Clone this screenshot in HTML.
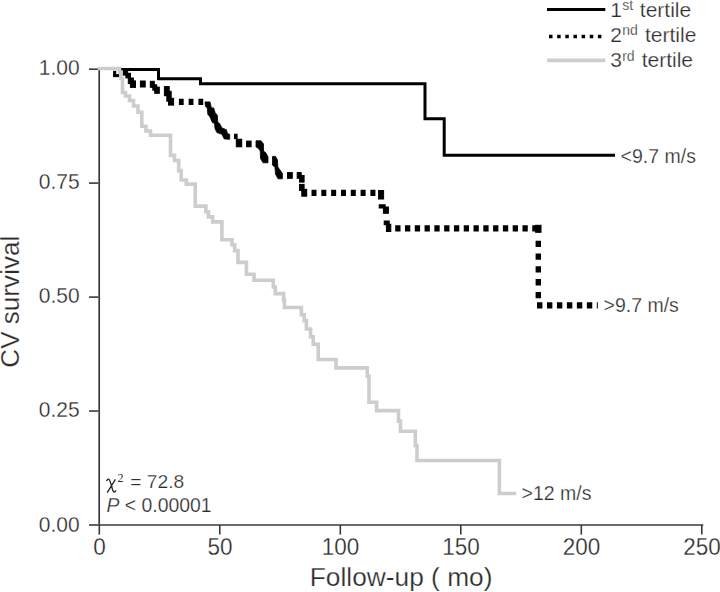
<!DOCTYPE html>
<html><head><meta charset="utf-8"><style>
html,body{margin:0;padding:0;background:#fff;}
svg{display:block;}
text{font-family:"Liberation Sans",sans-serif;fill:#2c2c2c;stroke:#fff;stroke-width:0.25px;paint-order:fill;}
</style></head><body>
<svg width="720" height="592" viewBox="0 0 720 592">
<rect width="720" height="592" fill="#fff"/>
<line x1="99.2" y1="68" x2="99.2" y2="525" stroke="#3a3a3a" stroke-width="1.7"/>
<line x1="98.4" y1="525" x2="703.3" y2="525" stroke="#3a3a3a" stroke-width="1.7"/>
<line x1="89" y1="69.2" x2="98.5" y2="69.2" stroke="#3a3a3a" stroke-width="1.6"/>
<line x1="89" y1="183.1" x2="98.5" y2="183.1" stroke="#3a3a3a" stroke-width="1.6"/>
<line x1="89" y1="297.1" x2="98.5" y2="297.1" stroke="#3a3a3a" stroke-width="1.6"/>
<line x1="89" y1="411.05" x2="98.5" y2="411.05" stroke="#3a3a3a" stroke-width="1.6"/>
<line x1="89" y1="525" x2="98.5" y2="525" stroke="#3a3a3a" stroke-width="1.6"/>
<line x1="99.3" y1="525" x2="99.3" y2="534.6" stroke="#3a3a3a" stroke-width="1.6"/>
<line x1="219.8" y1="525" x2="219.8" y2="534.6" stroke="#3a3a3a" stroke-width="1.6"/>
<line x1="340.3" y1="525" x2="340.3" y2="534.6" stroke="#3a3a3a" stroke-width="1.6"/>
<line x1="460.8" y1="525" x2="460.8" y2="534.6" stroke="#3a3a3a" stroke-width="1.6"/>
<line x1="581.3" y1="525" x2="581.3" y2="534.6" stroke="#3a3a3a" stroke-width="1.6"/>
<line x1="701.8" y1="525" x2="701.8" y2="534.6" stroke="#3a3a3a" stroke-width="1.6"/>
<text transform="translate(79.6,74.70) scale(1,1.045)" text-anchor="end" font-size="21">1.00</text>
<text transform="translate(79.6,188.95) scale(1,1.045)" text-anchor="end" font-size="21">0.75</text>
<text transform="translate(79.6,303.20) scale(1,1.045)" text-anchor="end" font-size="21">0.50</text>
<text transform="translate(79.6,417.45) scale(1,1.045)" text-anchor="end" font-size="21">0.25</text>
<text transform="translate(79.6,531.70) scale(1,1.045)" text-anchor="end" font-size="21">0.00</text>
<text transform="translate(99.6,555.2) scale(1,1.06)" text-anchor="middle" font-size="22.5">0</text>
<text transform="translate(220.1,555.2) scale(1,1.06)" text-anchor="middle" font-size="22.5">50</text>
<text transform="translate(340.6,555.2) scale(1,1.06)" text-anchor="middle" font-size="22.5">100</text>
<text transform="translate(461.1,555.2) scale(1,1.06)" text-anchor="middle" font-size="22.5">150</text>
<text transform="translate(581.6,555.2) scale(1,1.06)" text-anchor="middle" font-size="22.5">200</text>
<text transform="translate(702.1,555.2) scale(1,1.06)" text-anchor="middle" font-size="22.5">250</text>
<text x="309.8" y="586" font-size="26.3">Follow-up ( mo)</text>
<text transform="translate(19.3,367.7) rotate(-90)" x="0" y="0" font-size="26" textLength="132" lengthAdjust="spacing">CV survival</text>
<!-- legend -->
<line x1="547" y1="9.4" x2="605.3" y2="9.4" stroke="#000" stroke-width="3"/>
<line x1="549" y1="36.5" x2="605" y2="36.5" stroke="#000" stroke-width="3.5" stroke-dasharray="3.5 4.65"/>
<line x1="547" y1="60.4" x2="605.3" y2="60.4" stroke="#cdcdcd" stroke-width="3.6"/>
<text x="610.3" y="16.5" font-size="21">1</text><text x="622.2" y="9.8" font-size="14">st</text><text x="639.8" y="16.5" font-size="21">tertile</text>
<text x="610.3" y="41.6" font-size="21">2</text><text x="622.2" y="34.9" font-size="14">nd</text><text x="645" y="41.6" font-size="21">tertile</text>
<text x="610.3" y="67.3" font-size="21">3</text><text x="622.2" y="60.6" font-size="14">rd</text><text x="641.7" y="67.3" font-size="21">tertile</text>
<!-- stats -->
<path d="M 106.6 481.2 C 107 479.5, 108.5 478.7, 109.3 479.6 C 110.5 481, 112 489, 113.4 491.6 C 114.2 492.6, 115.5 491.5, 116 490.4 M 115.4 479.3 L 107.2 492.6" fill="none" stroke="#2c2c2c" stroke-width="1.4"/>
<text x="117.6" y="481.6" font-size="12" style="font-family:'Liberation Serif';stroke:none">2</text>
<text x="130.3" y="488.3" font-size="19.2">= 72.8</text>
<text x="106.5" y="511.7" font-size="19.4"><tspan font-style="italic">P</tspan> &lt; 0.00001</text>
<!-- curve labels -->
<text x="620.6" y="163" font-size="19.5">&lt;9.7 m/s</text>
<text x="603.5" y="312.2" font-size="19.5">&gt;9.7 m/s</text>
<text x="521.6" y="500" font-size="19.5">&gt;12 m/s</text>
<!-- curves -->
<path d="M 120.5 69.4 H 158.5 V 78.7 H 200.5 V 83.8 H 425 V 118.8 H 444.2 V 155.2 H 615" fill="none" stroke="#000" stroke-width="3" stroke-linejoin="miter" stroke-linecap="butt"/>
<g fill="#000" stroke="#000">
<rect x="123.10" y="70.90" width="4.60" height="4.20"/>
<rect x="125.90" y="73.30" width="4.60" height="4.60"/>
<rect x="128.30" y="78.00" width="5.10" height="5.60"/>
<rect x="130.40" y="80.90" width="5.10" height="6.50"/>
<rect x="140.40" y="81.00" width="4.80" height="6.00"/>
<rect x="150.30" y="81.30" width="4.00" height="6.00"/>
<rect x="152.80" y="84.80" width="3.90" height="5.40"/>
<rect x="154.70" y="87.10" width="4.60" height="6.20"/>
<rect x="164.40" y="86.60" width="4.80" height="9.10"/>
<rect x="166.80" y="91.30" width="4.40" height="9.90"/>
<rect x="168.50" y="98.30" width="5.10" height="6.80"/>
<rect x="234.50" y="134.20" width="2.60" height="4.40"/>
<rect x="236.30" y="139.20" width="5.40" height="7.60"/>
<rect x="246.60" y="141.10" width="4.50" height="5.70"/>
<rect x="287.50" y="172.60" width="4.80" height="5.70"/>
<rect x="297.20" y="172.60" width="4.00" height="5.70"/>
<rect x="299.50" y="175.50" width="4.60" height="6.60"/>
<rect x="299.50" y="184.40" width="4.60" height="6.00"/>
<rect x="301.80" y="189.30" width="4.90" height="6.90"/>
<rect x="113.70" y="71.30" width="2.00" height="5.30"/>
<rect x="113.70" y="74.70" width="4.90" height="1.90"/>
<polygon points="205.00,101.90 210.00,101.90 211.40,107.90 213.70,107.90 215.00,112.40 217.30,115.20 217.80,122.50 219.60,123.40 221.90,127.90 226.50,129.80 227.40,133.40 229.70,134.30 229.70,139.30 224.20,138.90 221.90,134.30 216.90,132.50 215.00,128.80 214.60,123.40 212.30,122.50 210.00,117.00 207.80,114.20 207.30,107.90 205.50,106.50" stroke-width="0.8" stroke-linejoin="miter"/>
<polygon points="256.00,140.80 261.10,140.80 263.50,144.00 263.50,151.00 266.00,153.00 268.00,157.00 268.00,162.80 263.00,162.80 260.50,158.50 260.30,151.00 258.00,148.00 256.00,147.00" stroke-width="0.8" stroke-linejoin="miter"/>
<polygon points="272.50,156.40 275.50,156.40 277.50,160.00 277.80,167.00 280.00,170.00 282.40,173.50 282.40,178.80 278.00,178.80 275.50,174.00 275.00,167.50 272.50,165.00" stroke-width="0.8" stroke-linejoin="miter"/>
<line x1="178.9" y1="101.9" x2="203.8" y2="101.9" stroke-width="6.3" stroke-dasharray="4.8 4.95"/>
<line x1="311.5" y1="192.9" x2="376.0" y2="192.9" stroke-width="6.3" stroke-dasharray="5.0 4.82"/>
<line x1="395.2" y1="228.3" x2="541.3" y2="228.3" stroke-width="6.3" stroke-dasharray="5.3 4.49"/>
<line x1="537.0" y1="305.3" x2="597.8" y2="305.3" stroke-width="6.3" stroke-dasharray="5.4 4.57"/>
<line x1="538.3" y1="240.7" x2="538.3" y2="299" stroke-width="5.4" stroke-dasharray="6.3 6.5"/>
<rect x="535.6" y="225.3" width="5.4" height="7"/>
<rect x="378.6" y="190.5" width="5" height="8.5"/>
<rect x="379.2" y="204.8" width="6" height="3.2"/>
<rect x="383.4" y="207" width="5" height="6.3"/>
<rect x="384.2" y="221" width="5" height="3.7"/>
<rect x="386.4" y="224.3" width="4.4" height="7.2"/>
</g>
<path d="M 97.8 68.5 H 119.5 V 72 H 121 V 78.5 H 122.5 V 92.5 H 125.5 V 96 H 129.5 V 100.5 H 133.5 V 106 H 138 V 112.3 H 141.8 V 126.3 H 146 V 131 H 150.5 V 135.3 H 170.5 V 155.4 H 174.5 V 160.5 H 178.7 V 170.6 H 181.2 V 180 H 186.3 V 184.1 H 195.2 V 206.1 H 205.9 V 211.8 H 208.4 V 216.9 H 212.7 V 221.9 H 221.9 V 239.7 H 232 V 244.7 H 234.6 V 250.6 H 238 V 262.4 H 246.4 V 274.3 H 254 V 280.2 H 273.3 V 287 H 275.2 V 293.6 H 283.6 V 300.4 H 284.5 V 307.5 H 301.4 V 314.7 H 304.2 V 320.6 H 306.4 V 329 H 310.6 V 336.7 H 313.2 V 344.3 H 318.2 V 359.5 H 336 V 367.9 H 367.3 V 376.3 H 369 V 402.2 H 376.6 V 410.6 H 398.5 V 421.1 H 400.5 V 431.2 H 415.3 V 445.5 H 417 V 460.5 H 499.4 V 493.5 H 516.3" fill="none" stroke="#cdcdcd" stroke-width="3.6" stroke-linejoin="miter" stroke-linecap="butt"/>
</svg>
</body></html>
